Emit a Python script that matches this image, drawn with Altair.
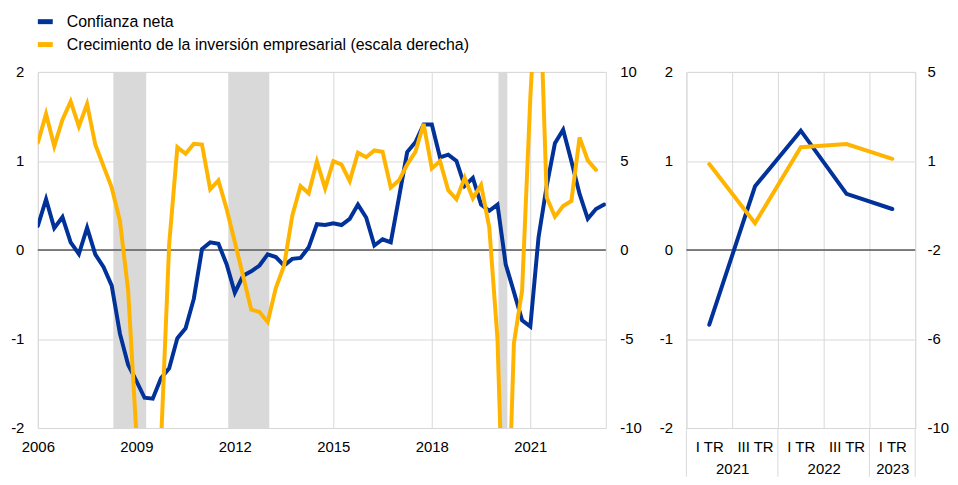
import json
import altair as alt
import pandas as pd

FONT = "Liberation Sans"
BLUE = "#003299"
YELLOW = "#FFB400"
GRID = "#D9D9D9"
SHADE = "#D9D9D9"
ZERO = "#595959"

# ---------------- data ----------------
SERIES = ["Confianza neta",
          "Crecimiento de la inversión empresarial (escala derecha)"]

FIRST_YEAR = 2006  # first quarter of the left panel: 2006 Q1
confidence = [0.27, 0.57, 0.245, 0.37, 0.085, -0.045, 0.25, -0.05, -0.19, -0.40,
              -0.94, -1.29, -1.47, -1.66, -1.67, -1.44, -1.33, -0.99, -0.88, -0.55,
              0.01, 0.085, 0.07, -0.16, -0.48, -0.29, -0.24, -0.175, -0.05, -0.08,
              -0.175, -0.10, -0.09, 0.03, 0.29, 0.28, 0.30, 0.28, 0.35, 0.51,
              0.365, 0.05, 0.12, 0.085, 0.59, 1.10, 1.21, 1.41, 1.41, 1.04,
              1.07, 1.00, 0.72, 0.81, 0.51, 0.44, 0.51, -0.16, -0.47, -0.79,
              -0.86, 0.14, 0.72, 1.20, 1.35, 1.00, 0.63, 0.35, 0.46, 0.51]
investment = [6.02, 7.64, 5.83, 7.32, 8.34, 6.94, 8.20, 5.92, 4.71, 3.50,
              1.64, -2.27, -10.3, -16.0, -15.0, -10.9, 0.33, 5.77, 5.40, 5.96,
              5.92, 3.41, 3.91, 2.30, 0.45, -1.45, -3.35, -3.48, -4.04, -2.12,
              -0.88, 1.92, 3.59, 3.18, 4.97, 3.46, 4.99, 4.80, 3.87, 5.46,
              5.21, 5.59, 5.51, 3.50, 3.91, 4.80, 5.51, 7.08, 4.58, 4.99,
              3.35, 2.85, 4.06, 2.90, 3.65, 1.27, -5.0, -20.0, -5.25, -2.27,
              8.55, 17.0, 2.94, 1.87, 2.47, 2.75, 6.32, 5.03, 4.50]

recession_start = [2008.3, 2011.8, 2020.03]
recession_end = [2009.3, 2013.05, 2020.3]

left_year_ticks = [2006, 2009, 2012, 2015, 2018, 2021]
left_x_domain = [2006, 2023.3]
left_y_ticks = [-2, -1, 0, 1, 2]
right_y_ticks_left_panel = [-10, -5, 0, 5, 10]

right_quarters = ["I TR", "III TR", "I TR", "III TR", "I TR"]
right_years = ["2021", "2021", "2022", "2022", "2023"]
right_conf = [-0.84, 0.715, 1.34, 0.63, 0.46]
right_inv = [1.12, -1.37, 1.83, 1.96, 1.34]
right_inv_ticks = [5, 1.25, -2.5, -6.25, -10]

# ---------------- tables ----------------
conf_df = pd.DataFrame({"t": [FIRST_YEAR + i / 4 for i in range(len(confidence))],
                        "v": confidence})
inv_df = pd.DataFrame({"t": [FIRST_YEAR + i / 4 for i in range(len(investment))],
                       "v": investment})
rec_df = pd.DataFrame({"start": recession_start, "end": recession_end})
zero_df = pd.DataFrame({"v": [0]})

pos = [i + 0.5 for i in range(len(right_quarters))]
rconf_df = pd.DataFrame({"p": pos, "v": right_conf})
rinv_df = pd.DataFrame({"p": pos, "v": right_inv})

# year groups -> centres and separators
groups = []
for i, y in enumerate(right_years):
    if not groups or groups[-1][0] != y:
        groups.append([y, i, i])
    else:
        groups[-1][2] = i
seps = sorted(set([g[1] for g in groups] + [g[2] + 1 for g in groups]))
sep_df = pd.DataFrame({"b": seps})

n_half = 2 * len(right_quarters)
lines = [[" ", " "] for _ in range(n_half + 1)]
for i, q in enumerate(right_quarters):
    lines[2 * i + 1][0] = q
for y, a, b in groups:
    centre = (pos[a] + pos[b]) / 2
    lines[int(round(centre * 2))][1] = y
label_expr = json.dumps(lines, ensure_ascii=False) + "[round(datum.value * 2)]"

PLAIN = "'' + datum.value"

# ---------------- left panel ----------------
W_L, W_R, H = 571, 230, 358

xL = alt.Scale(domain=left_x_domain, nice=False, zero=False)
xL_axis = alt.Axis(values=left_year_ticks, format="d", labelFlush=False,
                   labelOverlap=False, grid=True, gridColor=GRID,
                   labelPadding=12, title=None, domain=False, ticks=False)
yL = alt.Scale(domain=[-2, 2], nice=False, zero=False)
yL_axis = alt.Axis(values=left_y_ticks, labelExpr=PLAIN, orient="left", grid=True,
                   gridColor=GRID, labelPadding=14, minExtent=29, title=None,
                   domain=False, ticks=False)
yR = alt.Scale(domain=[-10, 10], nice=False, zero=False)
yR_axis = alt.Axis(values=right_y_ticks_left_panel, labelExpr=PLAIN, orient="right",
                   grid=False, labelPadding=14, minExtent=35, title=None,
                   domain=False, ticks=False)

shade = alt.Chart(rec_df).mark_rect(color=SHADE).encode(
    x=alt.X("start:Q", scale=xL, axis=xL_axis), x2="end:Q")
zero_l = alt.Chart(zero_df).mark_rule(color=ZERO, strokeWidth=1.5).encode(
    y=alt.Y("v:Q", scale=yL, axis=yL_axis))
blue_l = alt.Chart(conf_df).mark_line(color=BLUE, strokeWidth=4, strokeCap="round",
                                      clip=True).encode(
    x=alt.X("t:Q", scale=xL, axis=xL_axis),
    y=alt.Y("v:Q", scale=yL, axis=yL_axis))
yellow_l = alt.Chart(inv_df).mark_line(color=YELLOW, strokeWidth=4, strokeCap="round",
                                       clip=True).encode(
    x=alt.X("t:Q", scale=xL, axis=xL_axis),
    y=alt.Y("v:Q", scale=yR, axis=yR_axis))

left = alt.layer(alt.layer(shade, zero_l, blue_l), yellow_l).resolve_scale(
    y="independent").properties(width=W_L, height=H,
                                view=alt.ViewBackground(stroke=GRID))

# ---------------- right panel ----------------
xRp = alt.Scale(domain=[0, len(right_quarters)], nice=False, zero=False)
xRp_axis = alt.Axis(values=[k / 2 for k in range(n_half + 1)], labelExpr=label_expr,
                    grid=True, gridColor=GRID,
                    gridOpacity={"condition": {"test": "datum.value % 1 === 0",
                                               "value": 1}, "value": 0},
                    labelPadding=12, labelLineHeight=22, labelFlush=False,
                    labelOverlap=False, title=None, domain=False, ticks=False)
yRpL = alt.Scale(domain=[-2, 2], nice=False, zero=False)
yRpL_axis = alt.Axis(values=left_y_ticks, labelExpr=PLAIN, orient="left", grid=True,
                     gridColor=GRID, labelPadding=14, minExtent=29, title=None,
                     domain=False, ticks=False)
yRpR = alt.Scale(domain=[min(right_inv_ticks), max(right_inv_ticks)], nice=False,
                 zero=False)
yRpR_axis = alt.Axis(values=right_inv_ticks, labelExpr="round(datum.value) + ''",
                     orient="right", grid=False, labelPadding=12, title=None,
                     domain=False, ticks=False)

sep = alt.Chart(sep_df).mark_rule(color=GRID, strokeWidth=1).encode(
    x=alt.X("b:Q", scale=xRp, axis=xRp_axis), y=alt.value(H), y2=alt.value(H + 49))
zero_r = alt.Chart(zero_df).mark_rule(color=ZERO, strokeWidth=1.5).encode(
    y=alt.Y("v:Q", scale=yRpL, axis=yRpL_axis))
blue_r = alt.Chart(rconf_df).mark_line(color=BLUE, strokeWidth=4,
                                       strokeCap="round").encode(
    x=alt.X("p:Q", scale=xRp, axis=xRp_axis),
    y=alt.Y("v:Q", scale=yRpL, axis=yRpL_axis))
yellow_r = alt.Chart(rinv_df).mark_line(color=YELLOW, strokeWidth=4,
                                        strokeCap="round").encode(
    x=alt.X("p:Q", scale=xRp, axis=xRp_axis),
    y=alt.Y("v:Q", scale=yRpR, axis=yRpR_axis))

right = alt.layer(alt.layer(sep, zero_r, blue_r), yellow_r).resolve_scale(
    y="independent").properties(width=W_R, height=H,
                                view=alt.ViewBackground(stroke=GRID))

# ---------------- legend ----------------
leg_df = pd.DataFrame({"series": SERIES})
ly = alt.Y("series:N", sort=SERIES, axis=None,
           scale=alt.Scale(type="point", padding=0.5))
lc = alt.Color("series:N", sort=SERIES,
               scale=alt.Scale(domain=SERIES, range=[BLUE, YELLOW]), legend=None)
swatch = alt.Chart(leg_df).mark_rule(strokeWidth=5).encode(
    x=alt.value(0), x2=alt.value(15), y=ly, color=lc)
leg_text = alt.Chart(leg_df).mark_text(align="left", baseline="middle", font=FONT,
                                       fontSize=16, color="#000000").encode(
    x=alt.value(29), y=ly, text="series:N")
legend = alt.layer(swatch, leg_text).properties(
    width=W_L, height=46, view=alt.ViewBackground(stroke="transparent"))

chart = alt.vconcat(
    legend,
    alt.hconcat(left, right, spacing=14),
    spacing=7,
).properties(padding=0).configure_axis(
    labelFont=FONT, labelFontSize=15, labelColor="#000000"
).configure_view(stroke="transparent")

chart.save("out.html", embed_options={"renderer": "svg", "actions": False})
